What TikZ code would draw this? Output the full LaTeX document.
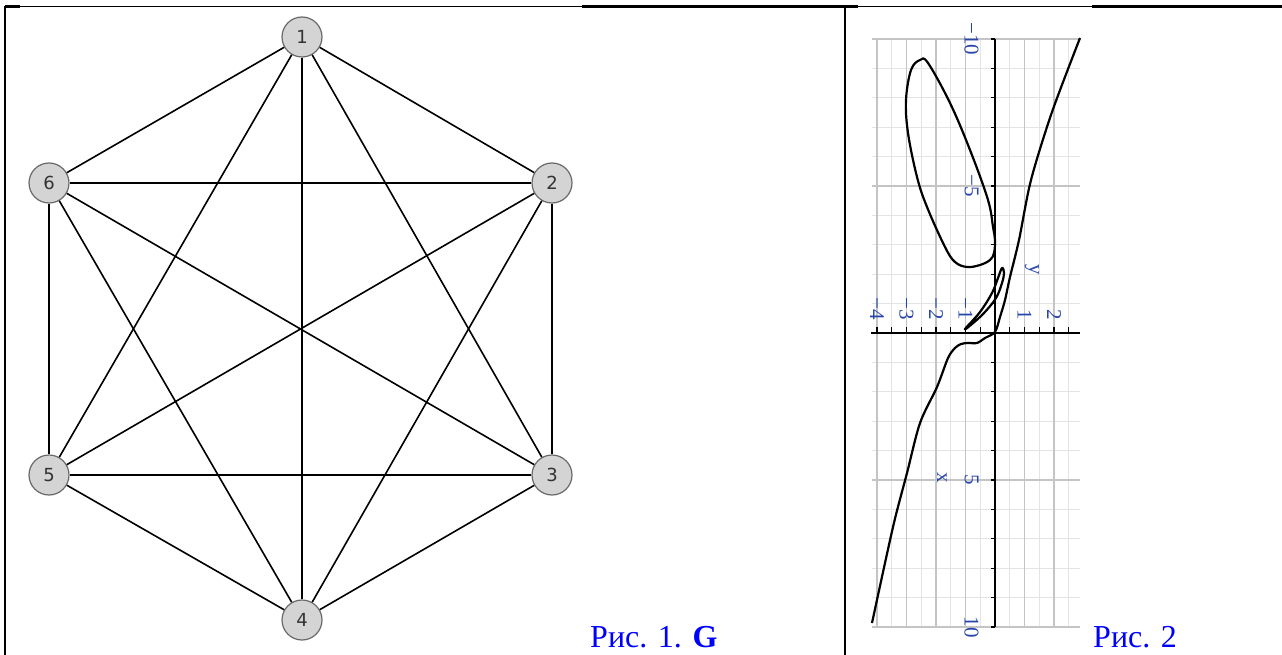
\documentclass[tikz,border=0pt]{standalone}
\usepackage{fontspec}
\setmainfont{Liberation Serif}
\newfontfamily\vertexfont{DejaVu Sans}
\definecolor{capblue}{RGB}{0, 0, 255}
\definecolor{vertexfill}{RGB}{212, 212, 212}
\definecolor{vertexline}{RGB}{105, 105, 105}
\definecolor{gridmajor}{RGB}{196, 196, 196}
\definecolor{gridminor}{RGB}{228, 228, 228}
\definecolor{ticklabel}{RGB}{40, 70, 170}
\usetikzlibrary{
    arrows.meta,
    positioning,
    calc
}

\begin{document}
\begin{tikzpicture}[x=1pt, y=-1pt,
            vertex/.style={circle, draw=vertexline, fill=vertexfill, line width=1.2pt,
                minimum size=40pt, inner sep=0pt, text=black!80,
                font=\vertexfont\fontsize{18}{20}\selectfont},
            edge/.style={line width=1.6pt, black},
            rule/.style={line width=2.5pt, black},
            thinrule/.style={line width=1pt, black},
            caption/.style={inner sep=0pt, text=capblue, font=\fontsize{32}{36}\selectfont},
            gridmaj/.style={line width=1.4pt, gridmajor},
            gridmin/.style={line width=1.2pt, gridminor},
            axisline/.style={line width=1.3pt, black},
            ticklab/.style={inner sep=0pt, text=ticklabel, font=\fontsize{21}{23}\selectfont},
            curveline/.style={line width=2.2pt, black, line join=round}]
    \useasboundingbox (0,0) rectangle (1282,655);

    % Table rules
    \draw[thinrule] (5,6.5) -- (1282,6.5);
    \draw[rule] (5,6.5) -- (20,6.5);
    \draw[rule] (582,6.5) -- (858,6.5);
    \draw[rule] (1092,6.5) -- (1282,6.5);
    \draw[rule] (5,6) -- (5,655);
    \draw[rule] (845,6) -- (845,655);

    % Graph G
    \node[vertex] (v1) at (302,37) {1};
    \node[vertex] (v2) at (552,183) {2};
    \node[vertex] (v3) at (552,475) {3};
    \node[vertex] (v4) at (302,620) {4};
    \node[vertex] (v5) at (49,475) {5};
    \node[vertex] (v6) at (49,183) {6};
    \foreach \a/\b in {1/2,1/3,1/4,1/5,1/6,2/3,2/4,2/5,2/6,3/4,3/5,3/6,4/5,4/6,5/6}
        \draw[edge] (v\a) -- (v\b);

    % Plot (turned a quarter)
    \begin{scope}[shift={(995pt,-333pt)}, x={(0pt,-29.4pt)}, y={(29.5pt,0pt)}]
        \foreach \v in {-3.5,-2.5,...,2.5}
            \draw[gridmin] (-10,\v) -- (10,\v);
        \foreach \u in {-9,-8,-7,-6,-4,-3,-2,-1,1,2,3,4,6,7,8,9}
            \draw[gridmin] (\u,-4.17) -- (\u,2.88);
        \foreach \v in {-4,...,2}
            \draw[gridmaj] (-10,\v) -- (10,\v);
        \foreach \u in {-10,-5,5,10}
            \draw[gridmaj] (\u,-4.17) -- (\u,2.88);

        % Axes
        \draw[axisline] (-10,0) -- (10,0);
        \draw[axisline] (0,-4.2) -- (0,2.88);
        \foreach \u in {-10,...,10}
            \draw[axisline] (\u,0) -- (\u,-0.12);
        \foreach \v in {-4,-3.5,...,2.5}
            \draw[axisline] (0,\v) -- (-0.2,\v);

        % Tick labels
        \foreach \u/\t in {-10/−10,-5/−5,5/5,10/10}
            \node[ticklab, rotate=-90, anchor=north] (xt\u) at (\u,-0.55) {\t};
        \foreach \v/\t in {-4/−4,-3/−3,-2/−2,-1/−1,1/1,2/2}
            \node[ticklab, rotate=-90, anchor=east] (yt\v) at (-0.45,\v) {\t};
        \node[ticklab, rotate=-90] (xlab) at (4.93,-1.8) {x};
        \node[ticklab, rotate=-90] (ylab) at (-2.14,1.25) {y};
    \end{scope}

    % Curves
    \draw[curveline] plot[smooth, tension=0.5] coordinates {(1080,38) (1052,112) (1031,180)
        (1019,240) (1010,277) (1005,300) (1000,317) (995,332) (985,338) (977,343)
        (968,343) (961,344) (955,348) (948,358) (937,387) (920,423) (907,473) (893,527) (872,623)};
    \draw[curveline] plot[smooth cycle, tension=0.6] coordinates {(920,60) (928,63) (950,103)
        (970,150) (988,200) (993,227) (995,240) (994,253) (990,260) (980,265) (967,267)
        (955,262) (945,247) (927,207) (917,177) (908,133) (906,100) (911,70)};
    \draw[curveline] plot[smooth cycle, tension=0.6] coordinates {(965,329) (980,312) (992,293)
        (998,278) (1002,268) (1004,273) (1002,283) (996,298) (984,313) (972,324)};

    % Captions
    \node[caption, anchor=base west] (cap1) at (590,647) {Рис. 1. \textbf{G}};
    \node[caption, anchor=base west] (cap2) at (1093,647) {Рис. 2};
\end{tikzpicture}
\end{document}
